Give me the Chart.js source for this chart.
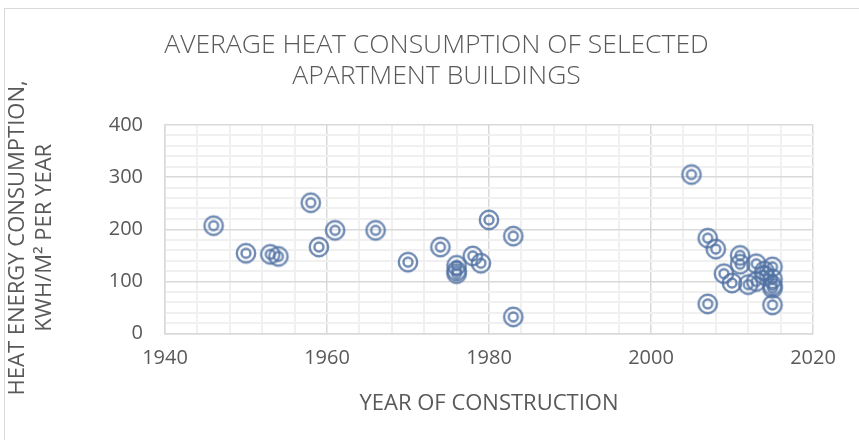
<!DOCTYPE html>
<html>
<head>
<meta charset="utf-8">
<script src="https://cdn.jsdelivr.net/npm/chart.js@4"></script>
<style>
  html, body { margin: 0; padding: 0; background: #fff; }
  #wrap { position: relative; width: 859px; height: 440px; overflow: hidden; }
  #frame { position: absolute; left: 4px; top: 8px; width: 900px; height: 500px;
           border-left: 1.5px solid #d9d9d9; border-top: 1.5px solid #d9d9d9; }
  canvas { position: absolute; left: 0; top: 0; }
</style>
</head>
<body>
<div id="wrap">
  <div id="frame"></div>
  <canvas id="heat-chart" width="859" height="440"></canvas>
</div>
<script>
// year of construction / average heat use (kWh/m² per year)
const years = [1946, 1950, 1953, 1954, 1958, 1959, 1961, 1966, 1970, 1974,
  1976, 1976, 1976, 1978, 1979, 1980, 1983, 1983,
  2005, 2007, 2007, 2008, 2009, 2010, 2011, 2011, 2012, 2013, 2013,
  2014, 2014, 2015, 2015, 2015, 2015, 2015];
const consumption = [207, 154, 152, 148, 251, 166, 198, 198, 137, 166,
  131, 120, 115, 149, 135, 218, 187, 32,
  305, 183, 57, 162, 115, 97, 150, 133, 94, 134, 100,
  120, 112, 128, 105, 92, 87, 55];
const xTicks = [1940, 1960, 1980, 2000, 2020];
const yTicks = [0, 100, 200, 300, 400];

const points = years.map((y, i) => ({ x: y, y: consumption[i] }));

// double ring marker
const marker = document.createElement('canvas');
marker.width = 24; marker.height = 24;
const m = marker.getContext('2d');
m.strokeStyle = 'rgba(80,114,164,0.82)';
m.lineWidth = 2.4;
m.beginPath(); m.arc(12, 12, 9.2, 0, Math.PI * 2); m.stroke();
m.beginPath(); m.arc(12, 12, 4.5, 0, Math.PI * 2); m.stroke();

const grey = '#595959';
const nb = '\u00a0\u00a0\u00a0';
const lead = '\u00a0'.repeat(8);  // title sits right of the canvas centre
const ctx = document.getElementById('heat-chart').getContext('2d');
new Chart(ctx, {
  type: 'scatter',
  data: {
    datasets: [{
      data: points,
      pointStyle: marker,
      pointRadius: 10,
      pointHoverRadius: 10
    }]
  },
  options: {
    responsive: false,
    animation: false,
    layout: { padding: { left: 5, right: 46, top: 0, bottom: 23 } },
    plugins: {
      legend: { display: false },
      tooltip: { enabled: false },
      title: {
        display: true,
        text: [lead + 'AVERAGE HEAT CONSUMPTION OF SELECTED', lead + 'APARTMENT BUILDINGS'],
        color: grey,
        font: { family: 'Open Sans', size: 26.5, weight: '300', lineHeight: 1.17 },
        padding: { top: 30, bottom: 33 }
      }
    },
    scales: {
      x: {
        type: 'linear',
        min: 1940, max: 2020,
        afterBuildTicks: s => {
          const t = [];
          for (let v = 1940; v <= 2020; v += 4) t.push({ value: v });
          s.ticks = t;
        },
        ticks: {
          autoSkip: false,
          maxRotation: 0,
          color: grey,
          font: { family: 'Open Sans', size: 20 },
          padding: 13,
          callback: v => xTicks.includes(v) ? String(v) : ''
        },
        grid: {
          drawTicks: false,
          color: c => (c.tick && c.tick.value % 20 === 0) ? '#d9d9d9' : '#f0f0f0',
          lineWidth: c => (c.tick && c.tick.value % 20 === 0) ? 1.5 : 2
        },
        border: { color: '#d9d9d9', width: 1.5 },
        title: {
          display: true,
          text: 'YEAR OF CONSTRUCTION',
          color: grey,
          font: { family: 'Open Sans', size: 22 },
          padding: { top: 7, bottom: 0 }
        }
      },
      y: {
        min: 0, max: 400,
        afterBuildTicks: s => {
          const t = [];
          for (let v = 0; v <= 400; v += 20) t.push({ value: v });
          s.ticks = t;
        },
        ticks: {
          autoSkip: false,
          color: grey,
          font: { family: 'Open Sans', size: 20 },
          padding: 22,
          callback: v => yTicks.includes(v) ? String(v) : ''
        },
        grid: {
          drawTicks: false,
          color: c => (c.tick && c.tick.value % 100 === 0) ? '#d9d9d9' : '#f0f0f0',
          lineWidth: c => (c.tick && c.tick.value % 100 === 0) ? 1.5 : 2
        },
        border: { color: '#d9d9d9', width: 1.5 },
        title: {
          display: true,
          text: ['HEAT ENERGY CONSUMPTION,' + nb, 'KWH/M² PER YEAR' + nb],
          color: grey,
          font: { family: 'Open Sans', size: 22, lineHeight: 1.2 },
          padding: { top: 0, bottom: 0 }
        },
        afterFit: s => { s.width = 160; }
      }
    }
  }
});
</script>
</body>
</html>
